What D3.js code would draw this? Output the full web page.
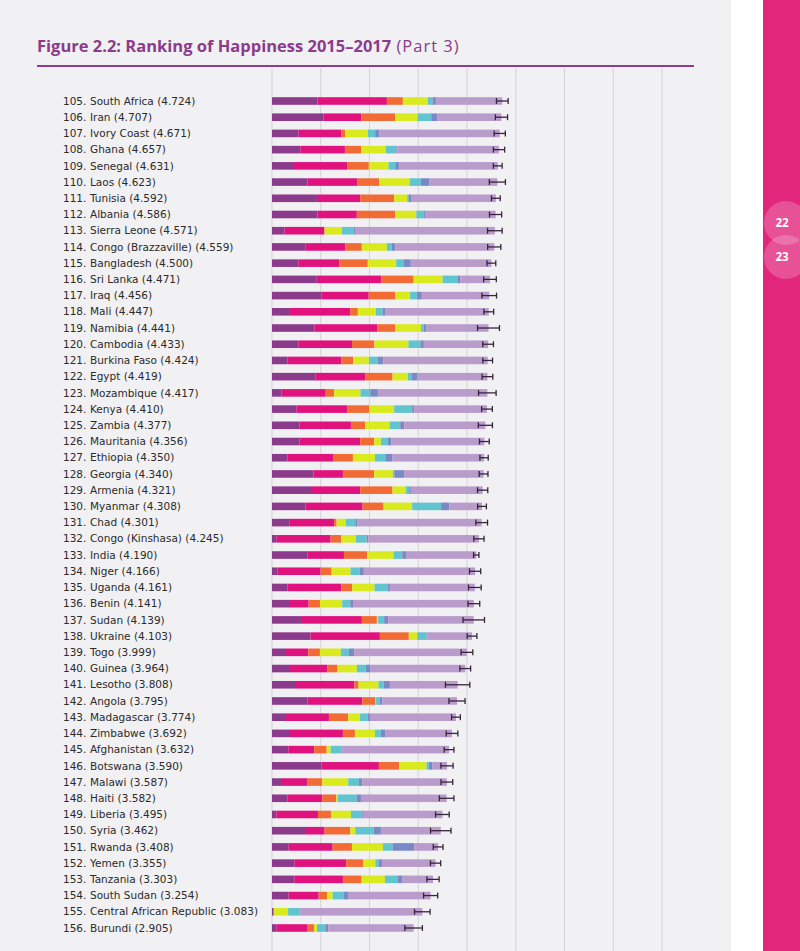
<!DOCTYPE html>
<meta charset="utf-8">
<head>
    <title>Ranking of Happiness 2015-2017 (Part 3)</title>
    <script src="https://cdn.jsdelivr.net/npm/d3@7"></script>
</head>

<style>
    body { margin: 0; background: #fff; }
    text { font-family: "Open Sans", "DejaVu Sans", sans-serif; }
    .label text { font-family: "DejaVu Sans", sans-serif; font-size: 10.5px; fill: #2b2b2b; }
    .grid line { stroke: #d4d3d6; stroke-width: 1px; }
    .err { stroke: #35263a; stroke-width: 1.3px; }
</style>

<svg></svg>

<script>
    var vWidth = 800;
    var vHeight = 951;

    // data
    var ranks = [105, 106, 107, 108, 109, 110, 111, 112, 113, 114, 115, 116, 117, 118, 119, 120, 121, 122, 123, 124,
        125, 126, 127, 128, 129, 130, 131, 132, 133, 134, 135, 136, 137, 138, 139, 140, 141, 142, 143, 144,
        145, 146, 147, 148, 149, 150, 151, 152, 153, 154, 155, 156];
    var countries = ["South Africa", "Iran", "Ivory Coast", "Ghana", "Senegal", "Laos", "Tunisia", "Albania",
        "Sierra Leone", "Congo (Brazzaville)", "Bangladesh", "Sri Lanka", "Iraq", "Mali", "Namibia", "Cambodia",
        "Burkina Faso", "Egypt", "Mozambique", "Kenya", "Zambia", "Mauritania", "Ethiopia", "Georgia", "Armenia",
        "Myanmar", "Chad", "Congo (Kinshasa)", "India", "Niger", "Uganda", "Benin", "Sudan", "Ukraine", "Togo",
        "Guinea", "Lesotho", "Angola", "Madagascar", "Zimbabwe", "Afghanistan", "Botswana", "Malawi", "Haiti",
        "Liberia", "Syria", "Rwanda", "Yemen", "Tanzania", "South Sudan", "Central African Republic", "Burundi"];
    var scores = [4.724, 4.707, 4.671, 4.657, 4.631, 4.623, 4.592, 4.586, 4.571, 4.559, 4.500, 4.471, 4.456, 4.447,
        4.441, 4.433, 4.424, 4.419, 4.417, 4.410, 4.377, 4.356, 4.350, 4.340, 4.321, 4.308, 4.301, 4.245, 4.190,
        4.166, 4.161, 4.141, 4.139, 4.103, 3.999, 3.964, 3.808, 3.795, 3.774, 3.692, 3.632, 3.590, 3.587, 3.582,
        3.495, 3.462, 3.408, 3.355, 3.303, 3.254, 3.083, 2.905];

    // explained by: ...
    var gdp = [.936, 1.059, .546, .581, .430, .731, .922, .932, .253, .692, .541, .918, 1.018, .370, .870, .541,
        .315, .897, .199, .499, .567, .567, .321, .854, .820, .690, .365, .096, .731, .116, .321, .369, .594, .792,
        .266, .348, .492, .731, .266, .369, .335, 1.018, .184, .321, .089, .697, .342, .458, .458, .342, .024, .089];
    var social = [1.421, .772, .874, .915, 1.120, 1.025, .888, .808, .822, .808, .842, 1.322, .966, 1.233, 1.295,
        1.100, 1.110, 1.014, .904, 1.052, 1.052, 1.243, .943, .601, .990, 1.168, .910, 1.107, .745, .881, 1.100,
        .383, 1.250, 1.421, .478, .792, 1.195, 1.120, .902, 1.086, .533, 1.175, .547, .710, .854, .383, .902,
        1.066, .997, .615, 0, .642];
    var health = [.328, .697, .082, .335, .437, .444, .697, .788, .005, .342, .582, .664, .541, .158, .363, .459,
        .240, .562, .171, .444, .294, .287, .396, .642, .663, .430, .050, .212, .478, .225, .225, .232, .307, .594,
        .239, .205, .089, .273, .396, .246, .253, .417, .300, .287, .266, .526, .396, .342, .383, .171, .017, .137];
    var freedom = [.512, .458, .464, .499, .403, .622, .266, .432, .356, .514, .582, .596, .308, .370, .527, .699,
        .322, .315, .541, .512, .499, .137, .451, .383, .273, .587, .185, .307, .540, .389, .458, .458, .027, .171,
        .430, .396, .410, .010, .239, .410, .082, .560, .533, .027, .410, .102, .635, .253, .478, .116, .290, .055];
    var generosity = [.096, .280, .150, .220, .137, .232, .030, .157, .240, .103, .150, .315, .137, .137, .055,
        .247, .185, .082, .199, .369, .219, .137, .212, .030, .068, .594, .198, .219, .178, .184, .266, .164, .123,
        .191, .164, .184, .102, .080, .157, .123, .225, .048, .219, .390, .225, .376, .198, .068, .266, .225, .232,
        .171];
    var corruption = [.068, .130, .089, .020, .082, .178, .050, .020, .040, .068, .150, .048, .103, .062, .055,
        .068, .116, .116, .158, .041, .082, .082, .150, .200, .034, .171, .048, .034, .089, .089, .048, .055, .082,
        .014, .109, .096, .130, .048, .048, .096, .010, .075, .068, .089, .020, .150, .444, .068, .096, .102, .020,
        .061];
    var dystopia = [1.363, 1.311, 2.466, 2.087, 2.022, 1.391, 1.739, 1.449, 2.855, 2.032, 1.653, 0.608, 1.383,
        2.117, 1.276, 1.319, 2.136, 1.433, 2.245, 1.493, 1.664, 1.903, 1.877, 1.630, 1.473, 0.668, 2.545, 2.270,
        1.429, 2.282, 1.743, 2.480, 1.756, 0.920, 2.313, 1.943, 1.390, 1.533, 1.766, 1.362, 2.194, 0.297, 1.736,
        1.758, 1.631, 1.228, 0.491, 1.100, 0.625, 1.683, 2.500, 1.750];
    // 95% confidence half-widths
    var errHalf = [.12, .125, .115, .115, .09, .165, .09, .125, .15, .135, .09, .13, .15, .1, .225, .11, .1, .11,
        .18, .11, .145, .1, .085, .09, .105, .09, .12, .105, .055, .115, .13, .12, .22, .1, .12, .11, .25, .165,
        .09, .12, .1, .125, .12, .15, .14, .21, .1, .105, .125, .145, .16, .18];
    var gridTicks = [0, 1, 2, 3, 4, 5, 6, 7, 8];

    var keys = ["gdp", "social", "health", "freedom", "generosity", "corruption", "dystopia"];
    var colors = ["#8c3a8c", "#e0137e", "#f26b35", "#d9ea1e", "#62c4cf", "#7b88c6", "#b99ccb"];

    var rows = countries.map(function (c, i) {
        return {
            rank: ranks[i], name: c, score: scores[i], err: errHalf[i],
            gdp: gdp[i], social: social[i], health: health[i], freedom: freedom[i],
            generosity: generosity[i], corruption: corruption[i], dystopia: dystopia[i]
        };
    });

    var svg = d3.select('svg').attr('width', vWidth).attr('height', vHeight);

    // page background
    svg.append('rect').attr('width', 731).attr('height', vHeight).attr('fill', '#f1f0f2');
    svg.append('rect').attr('x', 763).attr('width', 37).attr('height', vHeight).attr('fill', '#e1267c');

    // page tabs
    var tabs = svg.append('g');
    [["22", 223], ["23", 257]].forEach(function (t) {
        tabs.append('circle').attr('cx', 786).attr('cy', t[1]).attr('r', 22)
            .attr('fill', '#ffffff').attr('fill-opacity', 0.2);
        tabs.append('text').attr('x', 782).attr('y', t[1]).attr('dy', '0.35em')
            .attr('text-anchor', 'middle').attr('fill', '#fff')
            .style('font-size', '11.5px').style('font-weight', 700).text(t[0]);
    });

    // title
    var title = svg.append('text').attr('x', 37).attr('y', 52)
        .attr('fill', '#8c3a8c').style('font-size', '16.5px');
    title.append('tspan').style('font-weight', 700).text('Figure 2.2: Ranking of Happiness 2015\u20132017');
    title.append('tspan').style('font-weight', 400).style('letter-spacing', '1px').text(' (Part 3)');
    svg.append('line').attr('x1', 37).attr('x2', 694).attr('y1', 66).attr('y2', 66)
        .attr('stroke', '#8c3f90').attr('stroke-width', 2);

    // scales
    var x = d3.scaleLinear().domain([0, 8]).range([272, 662]);
    var y = d3.scalePoint().domain(countries).range([101, 928]);
    var barH = 7.6;

    svg.append('g').attr('class', 'grid')
        .selectAll('line').data(gridTicks).enter().append('line')
        .attr('x1', function (d) { return x(d); }).attr('x2', function (d) { return x(d); })
        .attr('y1', 68).attr('y2', vHeight);

    // stacked bars
    var series = d3.stack().keys(keys)(rows);
    svg.append('g').selectAll('g').data(series).enter().append('g')
        .attr('fill', function (d, i) { return colors[i]; })
        .selectAll('rect').data(function (d) { return d; }).enter().append('rect')
        .attr('x', function (d) { return x(d[0]); })
        .attr('width', function (d) { return Math.max(0, x(d[1]) - x(d[0])); })
        .attr('y', function (d) { return y(d.data.name) - barH / 2; })
        .attr('height', barH);

    // confidence intervals
    var err = svg.append('g').attr('class', 'err');
    err.selectAll('.h').data(rows).enter().append('line')
        .attr('x1', function (d) { return x(d.score - d.err); })
        .attr('x2', function (d) { return x(d.score + d.err); })
        .attr('y1', function (d) { return y(d.name); }).attr('y2', function (d) { return y(d.name); });
    ['lo', 'hi'].forEach(function (side) {
        err.selectAll('.' + side).data(rows).enter().append('line')
            .attr('x1', function (d) { return x(side === 'lo' ? d.score - d.err : d.score + d.err); })
            .attr('x2', function (d) { return x(side === 'lo' ? d.score - d.err : d.score + d.err); })
            .attr('y1', function (d) { return y(d.name) - 3; })
            .attr('y2', function (d) { return y(d.name) + 3; });
    });

    // labels
    var fmt = d3.format('.3f');
    var labels = svg.append('g').attr('class', 'label');
    labels.selectAll('.rank').data(rows).enter().append('text')
        .attr('x', 63).attr('y', function (d) { return y(d.name); }).attr('dy', '0.35em')
        .text(function (d) { return d.rank + '.'; });
    labels.selectAll('.name').data(rows).enter().append('text')
        .attr('x', 90).attr('y', function (d) { return y(d.name); }).attr('dy', '0.35em')
        .text(function (d) { return d.name + ' (' + fmt(d.score) + ')'; });
</script>
